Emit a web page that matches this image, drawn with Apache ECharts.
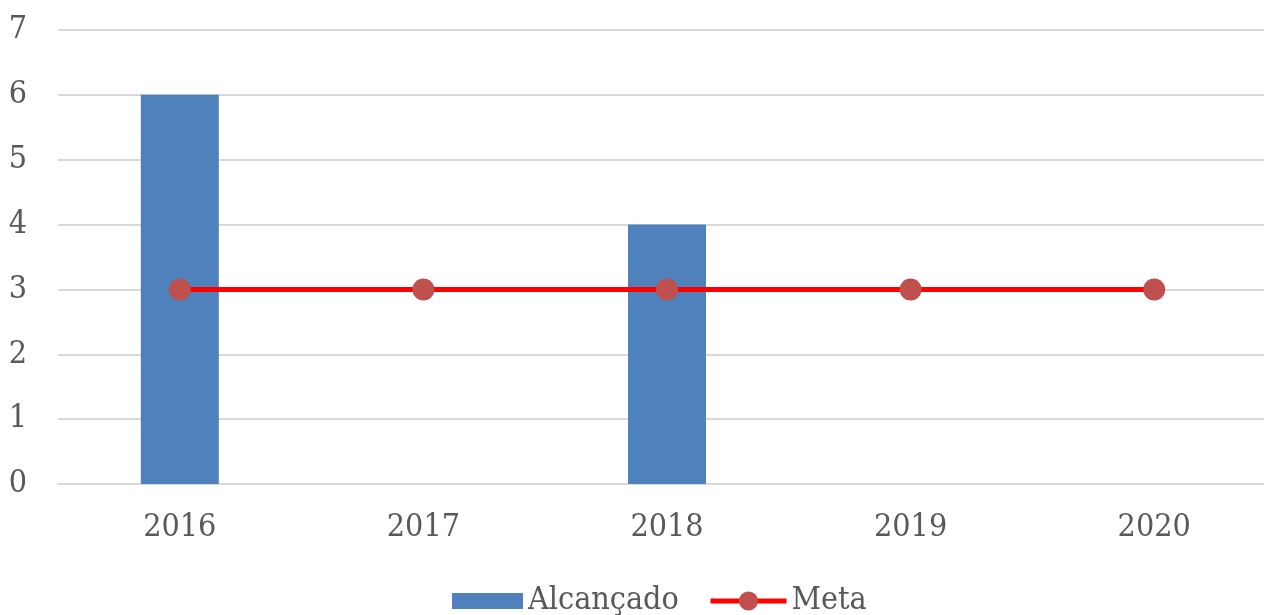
<!DOCTYPE html>
<html><head><meta charset="utf-8">
<script src="https://cdn.jsdelivr.net/npm/echarts@6/dist/echarts.min.js"></script>
<style>html,body{margin:0;padding:0;background:#fff;overflow:hidden}#c{width:1276px;height:615px}</style>
</head><body><div id="c"></div>
<script>
const categories = ['2016', '2017', '2018', '2019', '2020'];
const alcancado = [6, null, 4, null, null];
const meta = [3, 3, 3, 3, 3];
const yTicks = [0, 1, 2, 3, 4, 5, 6, 7];

const FONT = '"DejaVu Serif Condensed", "DejaVu Serif", serif';
const chart = echarts.init(document.getElementById('c'));
const legendText = { color: '#595959', fontSize: 32, fontFamily: FONT };
chart.setOption({
  animation: false,
  textStyle: { fontFamily: FONT },
  grid: { left: 58, right: 0, top: 30, bottom: 131, containLabel: false },
  xAxis: {
    type: 'category', data: categories,
    axisLine: { show: true, lineStyle: { color: '#d9d9d9', width: 2 } },
    axisTick: { show: false },
    axisLabel: { color: '#595959', fontSize: 32, fontFamily: FONT, margin: 28 }
  },
  yAxis: {
    type: 'value', min: yTicks[0], max: yTicks[yTicks.length - 1], interval: 1,
    axisLine: { show: false }, axisTick: { show: false },
    splitLine: { lineStyle: { color: '#d9d9d9', width: 2 } },
    axisLabel: { color: '#595959', fontSize: 32, fontFamily: FONT, margin: 31 }
  },
  legend: [
    {
      left: 447, top: 580, itemWidth: 71, itemHeight: 16, itemGap: 0,
      textStyle: legendText,
      data: [{ name: 'Alcançado', icon: 'rect' }]
    },
    {
      left: 703, top: 580, itemWidth: 76, itemHeight: 24, itemGap: 0,
      textStyle: legendText,
      data: [{ name: 'Meta', lineStyle: { width: 5, color: '#FF0000' } }]
    }
  ],
  series: [
    { name: 'Alcançado', type: 'bar', data: alcancado, barWidth: 78,
      itemStyle: { color: '#4F81BD' } },
    { name: 'Meta', type: 'line', data: meta, symbol: 'circle', symbolSize: 22,
      lineStyle: { color: '#FF0000', width: 5 },
      itemStyle: { color: '#C0504D' } }
  ]
});
</script></body></html>
